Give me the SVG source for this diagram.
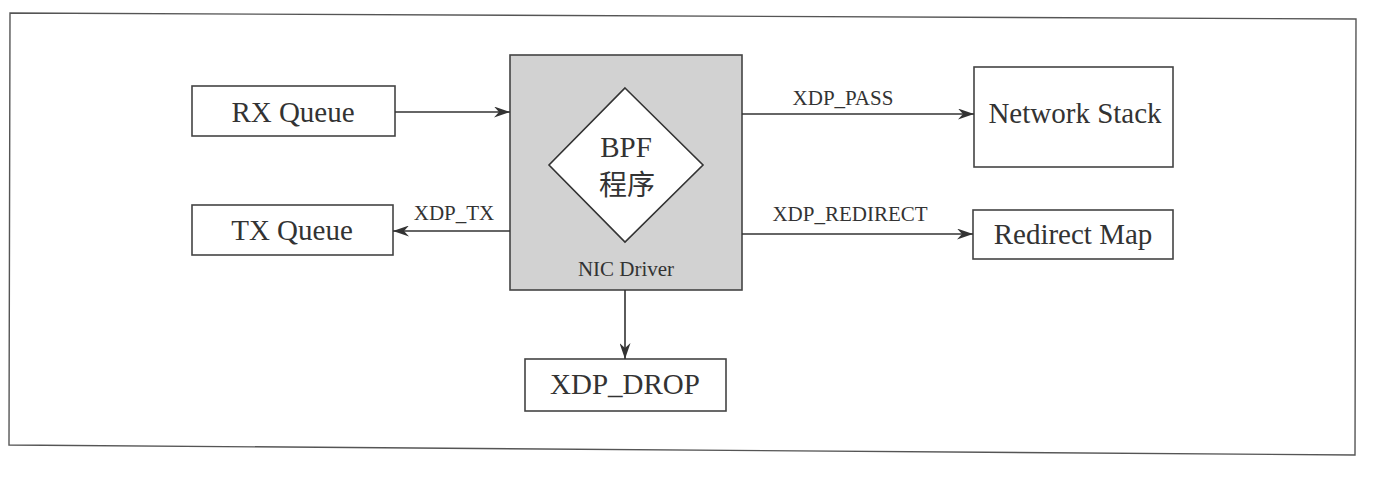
<svg xmlns="http://www.w3.org/2000/svg" width="1380" height="478" viewBox="0 0 1380 478">
<style>
.box{fill:#fff;stroke:#444;stroke-width:1.6}
.lbl{font-family:"Liberation Serif","Noto Sans CJK SC",serif;fill:#333;text-anchor:middle}
.big{font-size:29px}
.sm{font-size:21px}
.conn{stroke:#333;stroke-width:1.6;fill:none;marker-end:url(#ah)}
</style>
<defs>
<marker id="ah" viewBox="0 0 16 11" refX="16" refY="5.5" markerWidth="16" markerHeight="11" markerUnits="userSpaceOnUse" orient="auto">
<path d="M0,0 L16,5.5 L0,11 L5,5.5 Z" fill="#333"/>
</marker>
</defs>
<rect width="1380" height="478" fill="#fff"/>
<polygon id="frame" points="10,13 1356,19 1355,455 9,445" fill="none" stroke="#555" stroke-width="1.4"/>
<g id="nic">
<rect x="510" y="55" width="232" height="235" fill="#d2d2d2" stroke="#444" stroke-width="1.6"/>
<polygon points="625,88 703,165 625,242 549,165" fill="#fff" stroke="#333" stroke-width="1.6"/>
<text class="lbl" x="626" y="157" font-size="29">BPF</text>
<text class="lbl" x="627" y="195" font-size="28">程序</text>
<text class="lbl" x="626" y="276" font-size="21">NIC Driver</text>
</g>
<g id="rx"><rect class="box" x="192" y="86" width="203" height="50"/><text class="lbl big" x="293" y="122">RX Queue</text></g>
<g id="tx"><rect class="box" x="192" y="205" width="201" height="50"/><text class="lbl big" x="292" y="240">TX Queue</text></g>
<g id="netstack"><rect class="box" x="974" y="67" width="199" height="100"/><text class="lbl big" x="1075" y="123">Network Stack</text></g>
<g id="redirect"><rect class="box" x="973" y="210" width="200" height="49"/><text class="lbl big" x="1073" y="244">Redirect Map</text></g>
<g id="drop"><rect class="box" x="525" y="359" width="201" height="52"/><text class="lbl big" x="625" y="394">XDP_DROP</text></g>
<g id="connectors">
<line class="conn" x1="395" y1="112" x2="510" y2="112"/>
<line class="conn" x1="510" y1="231" x2="393" y2="231"/>
<line class="conn" x1="742" y1="114" x2="974" y2="114"/>
<line class="conn" x1="742" y1="234" x2="973" y2="234"/>
<line class="conn" x1="625" y1="290" x2="625" y2="359"/>
<text class="lbl sm" x="454" y="220">XDP_TX</text>
<text class="lbl sm" x="843" y="105">XDP_PASS</text>
<text class="lbl sm" x="850" y="221">XDP_REDIRECT</text>
</g>
</svg>
